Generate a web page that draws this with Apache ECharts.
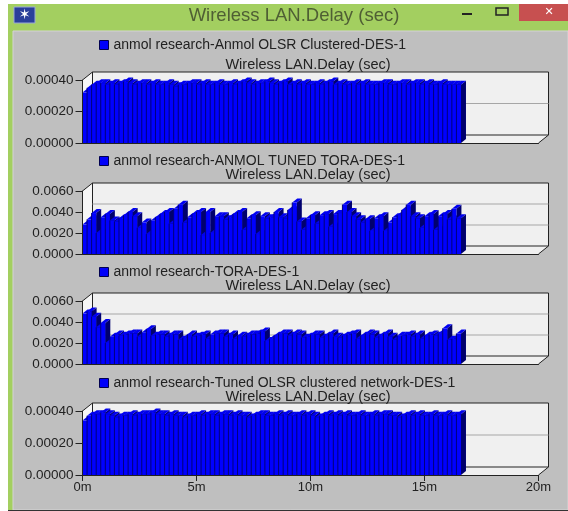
<!DOCTYPE html>
<html>
<head>
<meta charset="utf-8">
<title>Wireless LAN.Delay (sec)</title>
<script src="https://cdn.jsdelivr.net/npm/echarts@6/dist/echarts.min.js"></script>
<style>
  html, body { margin: 0; padding: 0; background: #fff; }
  #main { width: 568px; height: 511px; }
</style>
</head>
<body>
<div id="main"></div>
<script>
// 数据(从图上读出来的估计值)
const timeTicks = ["0m", "5m", "10m", "15m", "20m"];
const legendNames = [
  "anmol research-Anmol OLSR Clustered-DES-1",
  "anmol research-ANMOL TUNED TORA-DES-1",
  "anmol research-TORA-DES-1",
  "anmol research-Tuned OLSR clustered network-DES-1"
];
const chartTitle = "Wireless LAN.Delay (sec)";
const binMinutes = 0.2; // 每12秒一个桶

const olsrClustered = [
  .00032,.00035,.00037,.00038,.00038,.00037,.00038,.00037,.00038,.00039,
  .00038,.00037,.00038,.00038,.00037,.00038,.00037,.00037,.00038,.00037,
  .00036,.00037,.00037,.00038,.00038,.00037,.00038,.00037,.00037,.00038,
  .00037,.00037,.00038,.00037,.00038,.00039,.00038,.00037,.00038,.00038,
  .00039,.00038,.00037,.00038,.00039,.00037,.00038,.00037,.00038,.00037,
  .00037,.00038,.00037,.00038,.00039,.00037,.00038,.00037,.00037,.00038,
  .00037,.00038,.00037,.00037,.00037,.00038,.00038,.00037,.00037,.00038,
  .00038,.00037,.00038,.00038,.00037,.00038,.00037,.00037,.00038,.00037,
  .00037,.00037,.00037
];
const tunedTora = [
  .0028,.0033,.0039,.0020,.0035,.0038,.0032,.0031,.0034,.0037,
  .0040,.0036,.0025,.0030,.0019,.0032,.0035,.0038,.0040,.0029,
  .0043,.0047,.0030,.0035,.0038,.0040,.0018,.0040,.0020,.0036,
  .0036,.0033,.0035,.0038,.0040,.0023,.0034,.0037,.0019,.0036,
  .0034,.0035,.0040,.0035,.0034,.0042,.0049,.0031,.0023,.0034,
  .0037,.0029,.0037,.0038,.0026,.0038,.0039,.0047,.0040,.0036,
  .0033,.0030,.0033,.0022,.0034,.0036,.0022,.0030,.0035,.0037,
  .0042,.0047,.0036,.0034,.0025,.0036,.0038,.0023,.0036,.0038,
  .0033,.0043,.0034
];
const tora = [
  .0048,.0050,.0045,.0035,.0039,.0020,.0026,.0028,.0027,.0028,
  .0029,.0029,.0026,.0030,.0033,.0027,.0028,.0028,.0026,.0028,
  .0028,.0023,.0025,.0028,.0026,.0027,.0028,.0024,.0028,.0029,
  .0029,.0026,.0028,.0024,.0027,.0026,.0028,.0028,.0029,.0031,
  .0022,.0024,.0027,.0029,.0029,.0027,.0029,.0028,.0025,.0026,
  .0028,.0028,.0025,.0027,.0029,.0026,.0025,.0027,.0028,.0029,
  .0024,.0027,.0029,.0028,.0025,.0027,.0029,.0026,.0023,.0027,
  .0027,.0028,.0026,.0028,.0024,.0027,.0028,.0027,.0029,.0034,
  .0023,.0024,.0029
];
const tunedOlsr = [
  .00034,.00037,.00038,.00038,.00039,.00038,.00037,.00036,.00037,.00037,
  .00038,.00037,.00038,.00038,.00038,.00039,.00038,.00038,.00037,.00038,
  .00037,.00037,.00036,.00037,.00037,.00038,.00037,.00038,.00038,.00037,
  .00038,.00038,.00037,.00038,.00037,.00037,.00036,.00037,.00038,.00038,
  .00037,.00037,.00038,.00037,.00038,.00037,.00037,.00038,.00037,.00038,
  .00037,.00036,.00037,.00038,.00037,.00038,.00037,.00038,.00037,.00037,
  .00038,.00037,.00037,.00038,.00037,.00038,.00038,.00037,.00037,.00036,
  .00037,.00038,.00037,.00038,.00037,.00037,.00038,.00037,.00037,.00038,
  .00037,.00037,.00038
];
const lowTicks = [0, 0.0002, 0.0004];
const highTicks = [0, 0.002, 0.004, 0.006];

const FONT = '"Liberation Sans", Arial, sans-serif';
const DEPTH_X = 10, DEPTH_Y = 8;       // 后墙相对前面的偏移
const BAR_DX = 5, BAR_DY = 4;          // 柱子的厚度

const panels = [
  { values: olsrClustered, ticks: lowTicks,  digits: 5, top: 80,  bottom: 143, legendY: 38,  titleY: 57 },
  { values: tunedTora,     ticks: highTicks, digits: 4, top: 191, bottom: 254, legendY: 154, titleY: 167 },
  { values: tora,          ticks: highTicks, digits: 4, top: 301, bottom: 364, legendY: 265, titleY: 278 },
  { values: tunedOlsr,     ticks: lowTicks,  digits: 5, top: 411, bottom: 475, legendY: 376, titleY: 389 }
];

// 后墙、地面和网格线
function renderWall(ticks) {
  return function (params, api) {
    const maxV = ticks[ticks.length - 1];
    const lt = api.coord([0, maxV]), lb = api.coord([0, 0]);
    const rt = api.coord([20, maxV]), rb = api.coord([20, 0]);
    const line = { stroke: "#222", lineWidth: 1, fill: null };
    const children = [
      { type: "polygon", shape: { points: [lb, [lb[0] + DEPTH_X, lb[1] - DEPTH_Y], [lt[0] + DEPTH_X, lt[1] - DEPTH_Y], lt] }, style: { fill: "#f6f6f6" } },
      { type: "polygon", shape: { points: [lb, rb, [rb[0] + DEPTH_X, rb[1] - DEPTH_Y], [lb[0] + DEPTH_X, lb[1] - DEPTH_Y]] }, style: { fill: "#f0f0f0" } },
      { type: "rect", shape: { x: lt[0] + DEPTH_X, y: lt[1] - DEPTH_Y, width: rt[0] - lt[0], height: lb[1] - lt[1] }, style: { fill: "#f0f0f0", stroke: "#222", lineWidth: 1 } }
    ];
    ticks.slice(1, -1).forEach(function (t) {
      const p = api.coord([0, t]);
      children.push({ type: "line", shape: { x1: p[0] + DEPTH_X, y1: p[1] - DEPTH_Y, x2: rt[0] + DEPTH_X, y2: p[1] - DEPTH_Y }, style: { stroke: "#a6a6a6", lineWidth: 1 } });
    });
    children.push({ type: "polyline", shape: { points: [lt, [lt[0] + DEPTH_X, lt[1] - DEPTH_Y]] }, style: line });
    children.push({ type: "polyline", shape: { points: [lb, [lb[0] + DEPTH_X, lb[1] - DEPTH_Y]] }, style: { stroke: "#777", lineWidth: 1, fill: null } });
    children.push({ type: "polyline", shape: { points: [rb, [rb[0] + DEPTH_X, rb[1] - DEPTH_Y]] }, style: line });
    return { type: "group", children: children };
  };
}

// 一根柱子:侧面、顶面、正面
function renderBar(params, api) {
  const x0 = api.value(0);
  const a = api.coord([x0, api.value(1)]);
  const b = api.coord([x0 + binMinutes, 0]);
  const w = b[0] - a[0];
  return {
    type: "group",
    children: [
      { type: "polygon", shape: { points: [[b[0], a[1]], [b[0] + BAR_DX, a[1] - BAR_DY], [b[0] + BAR_DX, b[1] - BAR_DY], [b[0], b[1]]] }, style: { fill: "#00006e" } },
      { type: "polygon", shape: { points: [[a[0], a[1]], [a[0] + BAR_DX, a[1] - BAR_DY], [b[0] + BAR_DX, a[1] - BAR_DY], [b[0], a[1]]] }, style: { fill: "#0000f0" } },
      { type: "rect", shape: { x: a[0], y: a[1], width: w, height: b[1] - a[1] }, style: { fill: "#0000ff" } },
      { type: "line", shape: { x1: a[0], y1: a[1], x2: a[0], y2: b[1] }, style: { stroke: "#00007c", lineWidth: 1 } }
    ]
  };
}

const grids = [], xAxes = [], yAxes = [], series = [], titles = [], legends = [];
panels.forEach(function (p, i) {
  const isLast = i === panels.length - 1;
  grids.push({ left: 82.5, width: 456, top: p.top, height: p.bottom - p.top });
  xAxes.push({
    type: "value", gridIndex: i, min: 0, max: 20, interval: 5, z: 6,
    splitLine: { show: false },
    axisLine: { show: true, onZero: false, lineStyle: { color: "#222", width: 1 } },
    axisTick: { show: isLast, length: 6, lineStyle: { color: "#222" } },
    axisLabel: {
      show: isLast, color: "#222", fontFamily: FONT, fontSize: 13, margin: 6, showMinLabel: true, showMaxLabel: true,
      formatter: function (v) { return timeTicks[v / 5]; }
    }
  });
  yAxes.push({
    type: "value", gridIndex: i, min: 0, max: p.ticks[p.ticks.length - 1], interval: p.ticks[1], z: 6,
    splitLine: { show: false },
    axisLine: { show: true, onZero: false, lineStyle: { color: "#222", width: 1 } },
    axisTick: { show: true, length: 7, lineStyle: { color: "#222" } },
    axisLabel: {
      color: "#222", fontFamily: FONT, fontSize: 13.5, margin: 9, showMinLabel: true, showMaxLabel: true,
      formatter: function (v) { return v.toFixed(p.digits); }
    }
  });
  series.push({
    type: "custom", name: "wall" + i, xAxisIndex: i, yAxisIndex: i, z: 1, silent: true, clip: false,
    data: [[0, 0]], renderItem: renderWall(p.ticks)
  });
  series.push({
    type: "custom", name: legendNames[i], xAxisIndex: i, yAxisIndex: i, z: 2, silent: true, clip: false,
    progressive: 0, itemStyle: { color: "#0000fa" },
    encode: { x: 0, y: 1 },
    data: p.values.map(function (v, k) { return [k * binMinutes, v]; }),
    renderItem: renderBar
  });
  titles.push({
    text: chartTitle, left: 308, top: p.titleY, textAlign: "center", padding: 0,
    textStyle: { fontFamily: FONT, fontSize: 14.5, fontWeight: "normal", color: "#222" }
  });
  legends.push({
    data: [legendNames[i]], left: 99, top: p.legendY, padding: 0, itemWidth: 9, itemHeight: 9, itemGap: 6,
    icon: "rect", selectedMode: false,
    itemStyle: { borderColor: "#000050", borderWidth: 1 },
    textStyle: { fontFamily: FONT, fontSize: 14, color: "#222" }
  });
});

// 窗口外框
const chrome = [
  { type: "rect", shape: { x: 8, y: 4, width: 560, height: 507 }, style: { fill: "#a3cf60" }, z: -10 },
  { type: "rect", shape: { x: 13, y: 31, width: 555, height: 479 }, style: { fill: "#bfbfbf", stroke: "#d4d4d4", lineWidth: 1 }, z: -9 },
  { type: "rect", shape: { x: 8, y: 510, width: 560, height: 1 }, style: { fill: "#333" }, z: -8 },
  { type: "rect", shape: { x: 519, y: 4, width: 49, height: 17 }, style: { fill: "#c75050" }, z: -8 },
  { type: "rect", shape: { x: 14, y: 7, width: 21, height: 16 }, style: { fill: "#2a3f9a", stroke: "#9aa8d8", lineWidth: 1 }, z: -8 },
  { type: "text", x: 24.5, y: 15, style: { text: "✶", fill: "#fff", font: '14px "DejaVu Sans"', align: "center", verticalAlign: "middle" }, z: -7 },
  { type: "text", x: 294, y: 16, style: { text: chartTitle, fill: "#4f5f34", font: '18.5px ' + FONT, align: "center", verticalAlign: "middle" }, z: -7 },
  { type: "rect", shape: { x: 462, y: 13, width: 10, height: 2 }, style: { fill: "#222" }, z: -7 },
  { type: "rect", shape: { x: 496, y: 8, width: 12, height: 7 }, style: { fill: "none", stroke: "#222", lineWidth: 1.5 }, z: -7 },
  { type: "text", x: 549, y: 12, style: { text: "✕", fill: "#fff", font: 'bold 11px "DejaVu Sans"', align: "center", verticalAlign: "middle" }, z: -7 }
];

const chart = echarts.init(document.getElementById("main"), null, { renderer: "canvas" });
chart.setOption({
  animation: false,
  backgroundColor: "#ffffff",
  title: titles,
  legend: legends,
  grid: grids,
  xAxis: xAxes,
  yAxis: yAxes,
  series: series,
  graphic: { elements: chrome }
});
</script>
</body>
</html>
